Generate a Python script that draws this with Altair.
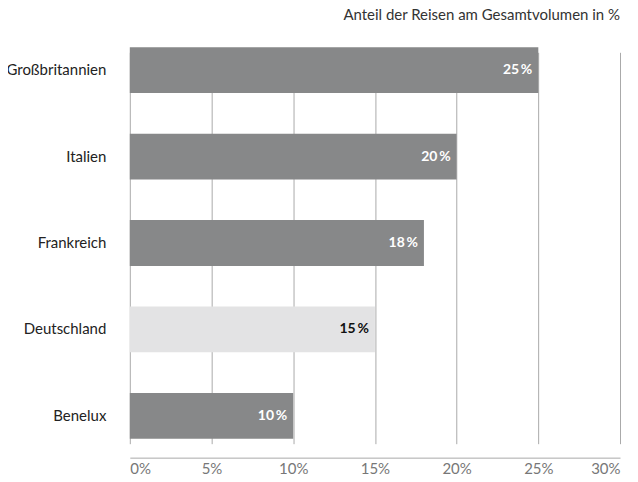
import altair as alt
import pandas as pd

countries = ["Großbritannien", "Italien", "Frankreich", "Deutschland", "Benelux"]
values = [25, 20, 18, 15, 10]
highlight = [False, False, False, True, False]

df = pd.DataFrame({"country": countries, "value": values, "hl": highlight})

FONT = "Lato"

base = alt.Chart(df).encode(
    y=alt.Y("country:N", sort=countries, title=None,
            scale=alt.Scale(range=[14, 406], paddingInner=0.47, paddingOuter=0),
            axis=alt.Axis(labelFontSize=15, labelColor="#222222", labelFont=FONT,
                          ticks=False, domain=False, labelPadding=24, grid=False)),
)

bars = base.mark_bar().encode(
    x=alt.X("value:Q", title=None,
            scale=alt.Scale(domain=[0, 30], nice=False),
            axis=alt.Axis(values=[0, 5, 10, 15, 20, 25, 30],
                          labelExpr="datum.value + '%'",
                          labelFontSize=15, labelColor="#777777", labelFont=FONT,
                          ticks=False, domain=True, domainColor="#aaaaaa",
                          grid=True, gridColor="#aaaaaa", gridWidth=1,
                          labelPadding=4)),
    color=alt.Color("hl:N", scale=alt.Scale(domain=[False, True], range=["#878889", "#e3e3e4"]),
                    legend=None),
)

labels = base.mark_text(align="right", baseline="middle", dx=-6, fontSize=14,
                        fontWeight="bold", font=FONT).transform_calculate(
    lab="datum.value + '\u2009%'"
).encode(
    x="value:Q",
    text="lab:N",
    color=alt.Color("hl:N", scale=alt.Scale(domain=[False, True], range=["#ffffff", "#111111"]),
                    legend=None),
)

chart = alt.layer(bars, labels).resolve_scale(color="independent").properties(
    width=491, height=425,
    autosize=alt.AutoSizeParams(type="none"),
    padding={"left": 122, "top": 25, "right": 10, "bottom": 20},
    title=alt.TitleParams("Anteil der Reisen am Gesamtvolumen in %", anchor="end", frame="group",
                          fontSize=15, fontWeight="normal", color="#333333", font=FONT, offset=10),
).configure_view(stroke=None)

chart.save("out.html", embed_options={"renderer": "svg", "actions": False})
